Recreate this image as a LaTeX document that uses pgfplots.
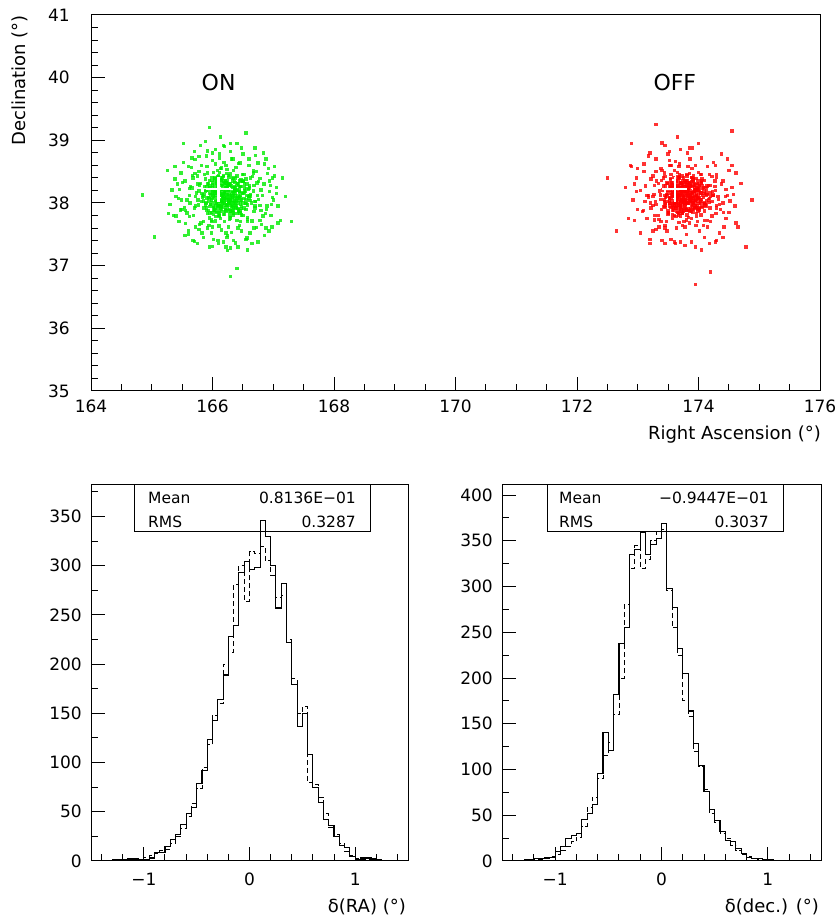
\documentclass[border=0pt]{standalone}
\usepackage{fontspec}
\setmainfont{DejaVu Sans}
\usepackage{pgfplots}
\pgfplotsset{compat=1.18}
\definecolor{ongreen}{RGB}{0,235,0}
\definecolor{offred}{RGB}{255,0,0}

% PAW-like frame: ticks inside, only on bottom and left
\pgfplotsset{
  paw/.style={
    scale only axis, anchor=south west,
    axis line style={line width=1pt},
    tick pos=left, tick align=inside,
    major tick length=14pt, minor tick length=7pt,
    tick style={black, line width=1pt},
    tick label style={font=\fontsize{17}{20}\selectfont},
    /pgf/number format/assume math mode=true,
    scaled ticks=false,
  },
}

\begin{document}
\begin{tikzpicture}
\path[use as bounding box] (0,0) rectangle (839pt,920pt);

% ---------- sky map ----------
\begin{axis}[paw, at={(91pt,529pt)}, width=729pt, height=376pt,
  xmin=164, xmax=176, ymin=35, ymax=41,
  xtick={164,166,168,170,172,174,176}, ytick={35,36,37,38,39,40,41},
  minor x tick num=3, minor y tick num=4,
  xticklabel style={inner sep=0pt, yshift=-9pt},
  yticklabel style={inner sep=0pt, xshift=-21pt},
]
% ON region
\addplot[only marks, color=ongreen, mark=square*, mark size=1.7pt,
  mark options={draw opacity=0, fill=ongreen, fill opacity=0.8}] coordinates {
(166.25,38.14) (165.93,37.88) (166.41,38.31) (166.08,38.02) (166.72,37.61) (166.17,38.22) (165.71,38.47) (166.33,37.95) (166.02,38.11) (166.55,38.06)
(166.12,37.79) (166.38,38.40) (165.88,38.18) (166.27,37.99) (166.95,38.28) (166.19,38.65) (165.99,37.70) (166.46,38.12) (166.06,38.33) (165.54,37.93)
(166.30,38.08) (166.09,37.92) (166.61,38.24) (165.82,38.02) (166.22,37.52) (166.43,37.86) (166.15,38.37) (165.96,38.27) (166.36,38.00) (166.67,38.51)
(166.04,38.16) (166.28,37.74) (165.77,37.97) (166.50,38.35) (166.13,38.05) (166.89,37.90) (166.21,38.19) (165.91,38.58) (166.35,37.83) (166.00,37.62)
(165.62,38.23) (166.18,38.44) (166.40,38.09) (166.07,37.85) (166.58,37.77) (166.24,38.27) (165.85,38.03) (166.31,38.70) (166.11,37.95) (167.05,38.15)
(166.26,38.01) (165.95,38.36) (166.47,37.91) (166.14,38.13) (165.69,37.80) (166.37,38.21) (166.02,38.49) (166.64,38.00) (166.20,37.70) (165.84,38.12)
(166.33,37.89) (166.10,38.26) (165.44,38.07) (166.52,38.17) (166.16,37.98) (166.78,38.39) (165.98,37.73) (166.29,38.04) (166.05,38.85) (166.42,37.60)
(166.23,38.32) (165.89,37.99) (166.60,38.10) (166.12,37.84) (166.35,38.52) (165.79,38.29) (166.19,38.07) (166.48,37.81) (166.01,38.20) (166.70,37.95)
(166.09,38.42) (166.39,37.96) (165.74,38.16) (166.27,38.02) (166.57,38.30) (166.15,37.57) (165.93,38.09) (166.83,37.79) (166.22,38.60) (166.03,37.87)
(166.44,38.19) (165.87,38.45) (166.17,37.93) (166.62,38.04) (166.30,37.76) (165.58,37.84) (166.08,38.24) (166.36,38.34) (166.00,38.01) (166.91,38.47)
(166.21,37.90) (166.46,38.26) (165.97,38.13) (166.13,38.55) (166.68,37.86) (165.81,37.68) (166.34,38.11) (166.06,37.97) (166.55,38.38) (165.33,38.21)
(166.18,38.06) (166.40,37.72) (165.92,38.30) (166.27,38.41) (166.74,38.12) (166.10,37.81) (166.50,38.00) (165.76,38.05) (166.24,37.45) (166.03,38.28)
(166.37,38.16) (165.86,37.92) (166.59,38.22) (166.14,38.36) (166.28,37.83) (166.97,37.98) (166.05,38.12) (166.43,38.63) (165.68,38.40) (166.20,38.00)
(166.31,37.94) (166.01,38.19) (166.65,37.71) (166.16,38.08) (165.90,37.88) (166.49,38.45) (166.25,38.27) (165.63,38.00) (166.11,37.63) (166.80,38.21)
(166.07,38.34) (166.39,38.03) (165.83,38.15) (166.22,37.87) (166.54,37.99) (166.12,38.49) (166.73,38.32) (165.95,37.76) (166.33,38.09) (166.18,38.92)
(165.99,38.07) (166.45,37.84) (166.26,38.21) (165.72,37.95) (166.63,38.14) (166.09,37.96) (166.35,38.39) (166.87,37.83) (166.15,38.03) (165.51,38.33)
(166.29,37.78) (166.04,38.23) (166.52,38.07) (165.88,38.38) (166.20,38.17) (166.41,37.91) (165.79,37.66) (166.67,38.48) (166.13,37.91) (166.36,38.26)
(166.08,38.15) (166.58,37.74) (165.94,38.02) (166.24,38.53) (166.76,38.06) (166.02,37.82) (166.44,38.18) (165.66,38.24) (166.31,37.53) (166.17,38.11)
(166.47,38.37) (165.85,38.10) (166.22,37.97) (166.61,38.27) (166.10,38.44) (166.99,38.09) (166.34,37.88) (165.96,37.94) (166.27,38.31) (165.40,37.79)
(166.14,38.02) (166.39,38.57) (165.91,38.26) (166.70,37.92) (166.23,38.13) (166.05,37.71) (166.53,38.20) (165.75,38.43) (166.32,38.05) (166.12,38.78)
(165.26,38.52) (167.12,37.72) (166.48,38.88) (165.60,37.50) (166.86,38.62) (166.00,37.31) (165.49,38.05) (167.02,38.43) (166.38,37.36) (165.78,38.74)
(166.30,38.95) (165.56,37.67) (166.93,37.55) (165.38,38.38) (166.71,38.76) (166.09,37.40) (167.20,38.10) (165.70,37.39) (166.57,37.44) (165.92,38.83)
(166.19,38.10) (166.42,38.00) (165.98,37.85) (166.28,38.29) (166.06,38.04) (166.35,37.80) (166.16,38.40) (166.51,38.15) (165.89,38.20) (166.24,37.92)
(166.11,38.18) (166.37,38.12) (166.00,38.32) (166.45,37.87) (166.21,38.25) (165.94,38.07) (166.29,37.96) (166.56,38.23) (166.13,37.75) (166.40,38.43)
(166.26,38.06) (166.03,37.89) (166.33,38.35) (165.86,38.14) (166.18,37.82) (166.62,38.11) (166.08,38.28) (166.46,38.02) (166.23,38.47) (165.97,37.98)
(166.36,38.19) (166.14,37.94) (166.55,37.90) (166.01,38.22) (166.27,38.14) (165.80,38.31) (166.42,38.07) (166.10,38.05) (166.67,38.19) (166.19,37.86)
(166.31,38.27) (166.07,38.16) (166.49,38.34) (165.92,37.83) (166.22,38.07) (166.58,37.97) (166.16,38.22) (166.40,37.83) (166.04,38.38) (166.34,38.01)
(166.25,37.98) (165.84,38.09) (166.44,38.25) (166.12,38.31) (166.60,38.08) (166.02,37.93) (166.29,38.46) (165.95,38.24) (166.50,37.80) (166.17,38.15)
(166.39,37.93) (166.09,38.09) (166.71,38.02) (166.21,38.36) (165.88,37.96) (166.33,38.18) (166.06,37.78) (166.53,38.30) (166.27,38.03) (165.99,38.41)
(166.44,38.10) (166.15,38.28) (165.78,38.19) (166.30,37.87) (166.63,38.40) (166.11,38.00) (166.37,38.24) (166.00,38.15) (166.48,37.94) (166.20,38.33)
(165.65,38.57) (166.81,37.66) (165.47,37.89) (166.94,38.35) (166.25,37.24) (165.71,38.69) (166.60,38.70) (165.83,37.52) (167.08,37.95) (166.13,39.05)
(164.85,38.13) (165.28,37.83) (167.30,37.70) (166.40,36.95) (165.95,39.20) (166.55,39.12) (166.30,36.83) (165.05,37.46) (167.15,38.40) (165.52,38.95)
(165.55,38.35) (165.62,37.78) (166.85,38.30) (166.78,37.72) (165.90,38.75) (166.50,38.78) (165.85,37.45) (166.55,37.42) (165.40,38.10) (167.00,38.05)
(165.48,38.48) (165.70,38.82) (166.92,38.55) (166.96,37.80) (165.60,37.55) (166.20,38.90) (166.22,37.30) (165.30,37.98) (167.05,38.25) (165.75,37.35)
(166.70,38.88) (166.65,37.35) (165.45,37.70) (166.88,38.70) (165.95,37.30) (165.52,38.65) (166.98,37.62) (166.40,38.95) (165.80,38.92) (166.30,37.28)
(165.58,38.05) (166.82,38.12) (166.12,38.72) (166.25,37.48) (165.67,38.44) (166.72,38.50) (165.72,37.62) (166.68,37.60) (165.50,37.90) (166.90,37.95)
(166.05,38.62) (166.45,38.64) (165.98,37.52) (166.48,37.55) (165.64,38.26) (166.76,38.34) (165.70,37.92) (166.80,37.88) (166.00,38.80) (166.35,37.40)
(165.42,38.30) (166.99,38.40) (165.82,38.60) (166.60,38.60) (165.78,37.58) (166.62,37.52) (165.36,37.80) (167.08,37.68) (165.88,38.98) (166.58,37.25)
(165.66,38.72) (166.84,38.80) (165.55,37.48) (166.86,37.48) (166.10,37.35) (166.30,38.82) (165.46,38.22) (166.94,38.18) (165.92,38.48) (166.52,38.45)
(165.85,37.70) (166.58,37.70) (165.60,38.58) (166.75,38.64) (165.68,37.40) (166.75,37.38) (166.15,38.56) (166.26,37.62) (165.75,38.30) (166.68,38.28)
(165.92,37.60) (166.44,37.64) (165.56,37.88) (166.88,37.60) (165.78,38.50) (166.66,38.42) (166.02,37.42) (166.42,37.30) (165.38,38.58) (167.02,38.58)
(165.72,38.10) (166.70,38.02) (166.08,38.52) (166.34,38.70) (165.94,37.64) (166.46,37.70) (165.62,38.12) (166.78,37.96) (166.18,37.38) (166.00,38.68)
(166.24,38.09) (166.05,38.21) (166.38,37.97) (166.15,37.90) (166.30,38.30) (165.98,38.05) (166.45,38.17) (166.10,38.38) (166.34,37.84) (166.02,37.95)
(166.27,38.22) (166.12,38.12) (166.48,38.05) (165.95,38.15) (166.20,37.82) (166.40,38.28) (166.07,37.99) (166.31,38.16) (166.18,38.42) (165.90,37.92)
(166.36,38.07) (166.09,38.27) (166.52,37.92) (166.16,38.00) (165.87,38.26) (166.28,37.90) (166.44,38.35) (166.03,38.09) (166.22,38.25) (166.57,38.12)
(166.13,37.86) (166.39,38.20) (165.96,37.84) (166.25,38.35) (166.06,38.18) (166.46,37.98) (166.19,38.03) (166.33,38.40) (165.93,38.31) (166.11,37.96)
(166.42,38.11) (166.00,38.24) (166.29,38.06) (166.17,38.30) (166.53,38.24) (166.08,37.86) (166.35,37.93) (165.99,38.36) (166.23,37.97) (166.47,38.26)
(166.14,38.19) (166.32,38.12) (166.04,37.91) (166.26,38.44) (165.91,38.08) (166.43,37.89) (166.20,38.16) (166.37,38.33) (166.09,38.04) (166.55,38.00)
(166.16,38.27) (166.28,37.99) (166.01,38.13) (166.41,38.21) (166.12,37.80) (166.34,38.25) (165.97,37.98) (166.24,38.05) (166.50,38.34) (166.07,38.31)
(166.30,37.87) (166.19,38.35) (166.45,38.08) (165.94,38.20) (166.36,38.02) (166.10,38.10) (166.27,38.29) (166.05,38.02) (166.39,37.91) (166.21,38.21)
(166.13,38.40) (166.49,38.15) (166.02,37.88) (166.31,38.01) (166.17,38.14) (166.43,38.30) (165.89,38.01) (166.25,37.88) (166.08,38.23) (166.35,38.16)
(166.22,38.32) (166.40,38.04) (166.00,38.29) (166.29,38.11) (166.15,37.94) (166.54,38.18) (166.11,38.15) (166.33,37.96) (166.04,38.40) (166.26,38.18)
};
% OFF region
\addplot[only marks, color=offred, mark=square*, mark size=1.7pt,
  mark options={draw opacity=0, fill=offred, fill opacity=0.8}] coordinates {
(173.78,38.05) (173.46,38.27) (174.01,37.92) (173.65,38.16) (173.92,38.44) (173.30,37.98) (173.84,37.77) (173.59,38.33) (174.25,38.12) (173.71,37.86)
(173.52,38.09) (173.96,38.21) (173.68,37.69) (174.12,37.95) (173.40,38.52) (173.81,38.01) (173.62,37.91) (174.38,38.30) (173.75,38.40) (173.27,38.14)
(173.88,38.17) (173.57,37.82) (174.06,38.38) (173.73,38.03) (173.35,37.74) (173.99,37.87) (173.66,38.24) (174.18,38.07) (173.49,38.02) (173.83,38.58)
(173.70,37.96) (174.29,37.83) (173.61,38.13) (173.93,38.31) (173.43,37.94) (173.79,38.19) (174.08,37.64) (173.55,38.45) (173.86,38.08) (173.13,38.27)
(173.74,38.29) (173.48,38.11) (174.03,38.00) (173.63,37.78) (173.90,38.15) (174.45,38.22) (173.69,38.62) (173.38,38.06) (173.97,37.93) (173.58,37.99)
(173.82,38.36) (173.54,38.20) (174.14,38.27) (173.76,37.89) (173.31,38.35) (173.95,38.04) (173.64,37.60) (174.22,37.79) (173.87,38.12) (173.51,37.84)
(173.72,38.08) (174.00,38.49) (173.45,37.97) (173.80,37.73) (174.33,38.06) (173.60,38.28) (173.91,37.85) (173.22,37.92) (173.77,38.18) (174.10,38.36)
(173.67,37.93) (173.94,38.10) (173.42,38.40) (174.04,37.81) (173.73,38.25) (173.56,38.03) (174.19,38.16) (173.85,37.68) (173.36,38.19) (173.89,38.55)
(173.62,38.11) (174.09,37.99) (173.79,38.34) (173.50,37.87) (173.98,38.23) (174.52,38.03) (173.70,37.79) (173.44,38.48) (173.84,38.00) (174.15,37.72)
(173.75,38.20) (173.29,38.02) (173.92,37.90) (173.66,38.42) (174.24,38.13) (173.57,37.76) (173.86,38.30) (173.99,38.07) (173.09,37.88) (173.78,37.95)
(173.61,38.26) (174.05,38.32) (173.74,37.84) (173.47,38.14) (173.90,38.04) (174.36,37.90) (173.68,38.09) (173.53,38.60) (174.13,38.19) (173.81,37.81)
(173.39,37.90) (173.96,38.39) (173.71,38.01) (174.27,38.26) (173.58,38.17) (173.88,37.75) (173.64,37.97) (174.02,38.09) (173.25,38.43) (173.83,38.24)
(173.76,37.70) (174.17,38.01) (173.49,38.31) (173.93,38.18) (173.69,38.06) (174.41,37.85) (173.55,37.93) (173.85,38.47) (173.33,37.80) (174.07,38.23)
(173.73,38.12) (173.46,37.99) (173.97,37.78) (173.63,38.35) (174.20,38.10) (173.80,38.29) (173.52,38.07) (174.11,37.97) (173.87,38.03) (173.18,38.09)
(173.69,38.45) (174.00,38.14) (173.41,38.21) (173.84,37.88) (174.30,38.41) (173.60,38.00) (173.94,38.22) (173.74,37.64) (174.58,38.14) (173.56,38.32)
(173.79,38.06) (173.37,38.13) (174.06,38.28) (173.65,37.85) (173.91,38.37) (173.50,37.82) (174.16,38.05) (173.82,38.15) (173.28,37.73) (174.01,37.91)
(173.71,38.33) (173.95,37.96) (173.44,38.05) (174.23,38.18) (173.67,38.21) (173.86,38.02) (173.54,38.39) (174.10,37.87) (173.77,37.92) (173.34,38.31)
(173.89,38.11) (173.59,37.94) (174.03,38.45) (173.72,38.18) (173.47,37.70) (173.98,38.08) (174.35,37.98) (173.63,38.11) (173.84,38.29) (173.21,38.00)
(173.75,37.87) (174.12,38.25) (173.53,38.26) (173.92,38.01) (173.68,37.83) (174.27,38.35) (173.45,38.12) (173.81,38.43) (174.05,38.06) (173.60,37.80)
(173.86,38.20) (173.39,38.36) (173.97,37.83) (173.70,38.04) (174.19,37.92) (173.57,38.14) (173.93,38.26) (173.65,38.49) (174.44,38.10) (173.78,37.99)
(173.74,38.14) (173.90,37.98) (173.63,38.05) (173.82,38.22) (173.69,37.96) (173.97,38.13) (173.58,38.19) (173.85,38.08) (173.76,38.30) (174.04,38.02)
(173.66,38.12) (173.93,38.17) (173.71,37.90) (173.88,38.34) (173.55,38.08) (174.00,38.25) (173.78,38.01) (173.61,38.27) (173.95,37.95) (173.80,38.16)
(173.73,38.05) (174.07,38.12) (173.64,38.23) (173.87,37.91) (173.52,38.00) (173.91,38.29) (173.70,38.18) (174.13,38.04) (173.83,38.11) (173.59,37.88)
(173.79,38.26) (173.96,38.06) (173.67,37.99) (173.84,38.19) (174.02,37.89) (173.62,38.15) (173.89,38.41) (173.72,37.93) (173.99,38.20) (173.56,38.24)
(173.81,38.03) (173.68,38.31) (174.09,38.15) (173.75,38.09) (173.60,37.97) (173.94,38.00) (173.77,38.36) (173.86,37.86) (174.16,38.28) (173.65,38.07)
(173.84,38.13) (173.71,38.24) (173.98,37.96) (173.54,38.16) (173.90,38.09) (173.76,38.03) (174.05,38.33) (173.63,37.92) (173.87,38.27) (173.73,38.19)
(173.92,38.18) (173.58,38.10) (173.80,37.89) (174.01,38.21) (173.69,38.40) (173.96,38.11) (173.66,38.02) (173.83,38.33) (174.11,37.99) (173.78,38.12)
(173.61,38.20) (173.88,38.07) (173.74,37.98) (174.03,38.16) (173.57,38.29) (173.93,37.93) (173.70,38.14) (173.85,38.25) (173.99,38.03) (173.64,37.94)
(173.76,38.22) (174.08,38.09) (173.67,38.11) (173.91,38.38) (173.53,37.95) (173.82,38.00) (173.97,38.24) (173.72,38.06) (174.14,38.14) (173.59,38.17)
(173.87,38.05) (173.70,38.32) (173.95,38.19) (173.62,38.01) (174.06,37.94) (173.79,38.15) (173.66,38.26) (173.89,37.90) (173.75,38.10) (174.00,38.30)
(173.00,38.55) (174.62,37.68) (172.95,37.72) (174.48,38.70) (173.20,38.80) (174.70,38.31) (173.45,37.35) (174.30,37.40) (172.80,38.25) (173.90,38.88)
(172.50,38.40) (174.88,38.05) (173.30,39.25) (173.95,36.70) (172.65,37.55) (174.55,39.15) (173.65,39.05) (174.20,36.90) (172.90,38.95) (174.78,37.30)
(173.05,38.20) (174.40,38.00) (173.15,37.75) (174.30,38.45) (173.50,38.78) (174.05,38.72) (173.40,37.40) (174.10,37.45) (172.92,38.05) (174.55,38.25)
(173.10,38.50) (174.45,37.75) (173.25,37.55) (174.25,38.65) (173.70,38.85) (173.78,37.32) (173.00,37.90) (174.60,37.95) (173.30,38.70) (174.18,37.35)
(173.60,37.38) (173.85,38.88) (172.98,38.40) (174.50,38.52) (173.20,37.35) (174.35,37.52) (173.45,38.92) (174.00,38.95) (173.35,37.62) (174.40,38.35)
(173.12,38.02) (174.32,38.10) (173.62,38.66) (173.80,37.50) (173.22,38.38) (174.22,38.42) (173.28,37.80) (174.20,37.70) (172.95,38.30) (174.50,37.85)
(173.55,38.60) (173.95,38.60) (173.48,37.55) (174.02,37.55) (173.18,38.12) (174.28,38.20) (173.25,37.96) (174.30,37.92) (173.52,38.82) (173.88,37.38)
(172.90,38.58) (174.62,38.48) (173.38,38.55) (174.15,38.58) (173.30,37.58) (174.15,37.62) (172.85,37.75) (174.65,37.62) (173.40,38.96) (174.05,37.25)
(173.18,38.75) (174.38,38.78) (173.05,37.52) (174.40,37.45) (173.62,37.35) (173.82,38.80) (172.98,38.18) (174.48,38.12) (173.45,38.42) (174.05,38.45)
(173.38,37.70) (174.10,37.72) (173.10,38.62) (174.28,38.60) (173.20,37.42) (174.28,37.38) (173.68,38.58) (173.78,37.62) (173.28,38.28) (174.20,38.28)
(173.45,37.60) (173.96,37.64) (173.08,37.86) (174.42,37.62) (173.30,38.50) (174.18,38.45) (173.55,37.42) (173.95,37.30) (172.88,38.60) (174.55,38.60)
(173.25,38.10) (174.22,38.02) (173.60,38.52) (173.86,38.70) (173.45,37.64) (173.98,37.70) (173.15,38.12) (174.30,37.96) (173.70,37.38) (173.52,38.68)
(173.78,38.10) (173.60,38.22) (173.92,38.00) (173.70,37.92) (173.85,38.32) (173.52,38.04) (174.00,38.18) (173.66,38.37) (173.88,37.86) (173.57,37.97)
(173.82,38.24) (173.68,38.13) (174.03,38.06) (173.49,38.16) (173.74,37.83) (173.95,38.29) (173.63,38.00) (173.86,38.17) (173.73,38.43) (173.45,37.93)
(173.91,38.08) (173.65,38.28) (174.07,37.93) (173.71,38.01) (173.42,38.27) (173.83,37.91) (173.99,38.36) (173.58,38.10) (173.77,38.26) (174.12,38.13)
(173.69,37.87) (173.94,38.21) (173.51,37.85) (173.80,38.36) (173.62,38.19) (174.01,37.99) (173.75,38.04) (173.88,38.41) (173.48,38.32) (173.67,37.97)
(173.97,38.12) (173.55,38.25) (173.84,38.07) (173.72,38.31) (174.08,38.25) (173.64,37.87) (173.90,37.94) (173.54,38.37) (173.78,37.98) (174.02,38.27)
(173.70,38.20) (173.87,38.13) (173.59,37.92) (173.81,38.45) (173.46,38.09) (173.98,37.90) (173.75,38.17) (173.92,38.34) (173.64,38.05) (174.10,38.01)
(173.71,38.28) (173.83,38.00) (173.56,38.14) (173.96,38.22) (173.67,37.81) (173.89,38.26) (173.52,37.99) (173.79,38.06) (174.05,38.35) (173.62,38.32)
(173.85,37.88) (173.74,38.36) (174.00,38.09) (173.49,38.21) (173.91,38.03) (173.65,38.11) (173.82,38.30) (173.60,38.03) (173.94,37.92) (173.76,38.22)
(173.68,38.41) (174.04,38.16) (173.57,37.89) (173.86,38.02) (173.72,38.15) (173.98,38.31) (173.44,38.02) (173.80,37.89) (173.63,38.24) (173.90,38.17)
(173.77,38.33) (173.95,38.05) (173.55,38.30) (173.84,38.12) (173.70,37.95) (174.09,38.19) (173.66,38.16) (173.88,37.97) (173.59,38.41) (173.81,38.19)
};
% source positions
\addplot[only marks, mark=+, mark size=12.5pt, white, line width=2.2pt]
  coordinates {(166.10,38.22) (173.61,38.22)};
\node[font=\fontsize{22}{24}\selectfont] at (axis cs:166.10,39.93) {ON};
\node[font=\fontsize{22}{24}\selectfont] at (axis cs:173.61,39.93) {OFF};
\end{axis}

% ---------- delta RA ----------
\begin{axis}[paw, at={(91pt,59pt)}, width=317pt, height=376pt,
  xmin=-1.5, xmax=1.5, ymin=0, ymax=382,
  xtick={-1,0,1}, xticklabels={−1,0,1},
  minor xtick={-1.4,-1.2,-0.8,-0.6,-0.4,-0.2,0.2,0.4,0.6,0.8,1.2,1.4},
  ytick={0,50,100,150,200,250,300,350},
  minor ytick={25,75,125,175,225,275,325,375},
  xticklabel style={inner sep=0pt, yshift=-12pt},
  yticklabel style={inner sep=0pt, xshift=-9pt},
]
\addplot[const plot, black, line width=0.9pt, dash pattern=on 5pt off 3pt] coordinates {
(-1.50,0) (-1.45,0) (-1.40,0) (-1.35,0) (-1.30,0) (-1.25,0) (-1.20,2) (-1.15,1) (-1.10,1) (-1.05,2)
(-1.00,4) (-0.95,6) (-0.90,8) (-0.85,11) (-0.80,12) (-0.75,18) (-0.70,25) (-0.65,33) (-0.60,45) (-0.55,58)
(-0.50,74) (-0.45,95) (-0.40,118) (-0.35,148) (-0.30,160) (-0.25,200) (-0.20,212) (-0.15,281) (-0.10,300) (-0.05,264)
(0.00,314) (0.05,312) (0.10,320) (0.15,305) (0.20,290) (0.25,268) (0.30,270) (0.35,225) (0.40,185) (0.45,150)
(0.50,157) (0.55,80) (0.60,78) (0.65,65) (0.70,48) (0.75,34) (0.80,27) (0.85,18) (0.90,10) (0.95,6)
(1.00,3) (1.05,2) (1.10,2) (1.15,1) (1.20,1) (1.25,0) (1.30,0) (1.35,0) (1.40,0) (1.45,0) (1.50,0)
};
\addplot[const plot, black, line width=1.1pt] coordinates {
(-1.50,0) (-1.45,0) (-1.40,0) (-1.35,0) (-1.30,1) (-1.25,1) (-1.20,1) (-1.15,2) (-1.10,2) (-1.05,1)
(-1.00,1) (-0.95,3) (-0.90,9) (-0.85,9) (-0.80,15) (-0.75,22) (-0.70,27) (-0.65,37) (-0.60,48) (-0.55,54)
(-0.50,79) (-0.45,92) (-0.40,123) (-0.35,143) (-0.30,164) (-0.25,189) (-0.20,228) (-0.15,239) (-0.10,293) (-0.05,304)
(0.00,296) (0.05,298) (0.10,346) (0.15,330) (0.20,300) (0.25,257) (0.30,282) (0.35,222) (0.40,179) (0.45,137)
(0.50,150) (0.55,108) (0.60,75) (0.65,59) (0.70,42) (0.75,36) (0.80,25) (0.85,16) (0.90,14) (0.95,5)
(1.00,1) (1.05,3) (1.10,3) (1.15,2) (1.20,1) (1.25,0) (1.30,0) (1.35,0) (1.40,0) (1.45,0) (1.50,0)
};
\end{axis}

% ---------- delta dec ----------
\begin{axis}[paw, at={(502pt,59pt)}, width=319pt, height=376pt,
  xmin=-1.5, xmax=1.5, ymin=0, ymax=411,
  xtick={-1,0,1}, xticklabels={−1,0,1},
  minor xtick={-1.4,-1.2,-0.8,-0.6,-0.4,-0.2,0.2,0.4,0.6,0.8,1.2,1.4},
  ytick={0,50,100,150,200,250,300,350,400},
  minor ytick={25,75,125,175,225,275,325,375},
  xticklabel style={inner sep=0pt, yshift=-12pt},
  yticklabel style={inner sep=0pt, xshift=-9pt},
]
\addplot[const plot, black, line width=0.9pt, dash pattern=on 5pt off 3pt] coordinates {
(-1.50,0) (-1.45,0) (-1.40,0) (-1.35,1) (-1.30,2) (-1.25,1) (-1.20,2) (-1.15,2) (-1.10,4) (-1.05,5)
(-1.00,7) (-0.95,12) (-0.90,16) (-0.85,21) (-0.80,26) (-0.75,38) (-0.70,58) (-0.65,70) (-0.60,90) (-0.55,115)
(-0.50,130) (-0.45,160) (-0.40,200) (-0.35,280) (-0.30,320) (-0.25,345) (-0.20,320) (-0.15,330) (-0.10,350) (-0.05,360)
(0.00,362) (0.05,296) (0.10,255) (0.15,225) (0.20,175) (0.25,158) (0.30,120) (0.35,103) (0.40,78) (0.45,52)
(0.50,42) (0.55,30) (0.60,25) (0.65,17) (0.70,12) (0.75,7) (0.80,5) (0.85,3) (0.90,2) (0.95,2)
(1.00,1) (1.05,1) (1.10,0) (1.15,0) (1.20,0) (1.25,0) (1.30,0) (1.35,0) (1.40,0) (1.45,0) (1.50,0)
};
\addplot[const plot, black, line width=1.1pt] coordinates {
(-1.50,0) (-1.45,0) (-1.40,1) (-1.35,1) (-1.30,1) (-1.25,2) (-1.20,3) (-1.15,3) (-1.10,3) (-1.05,4)
(-1.00,10) (-0.95,16) (-0.90,25) (-0.85,28) (-0.80,30) (-0.75,45) (-0.70,52) (-0.65,62) (-0.60,96) (-0.55,140)
(-0.50,121) (-0.45,182) (-0.40,238) (-0.35,255) (-0.30,335) (-0.25,340) (-0.20,359) (-0.15,335) (-0.10,346) (-0.05,353)
(0.00,369) (0.05,298) (0.10,277) (0.15,232) (0.20,205) (0.25,164) (0.30,128) (0.35,104) (0.40,76) (0.45,56)
(0.50,44) (0.55,32) (0.60,22) (0.65,21) (0.70,14) (0.75,8) (0.80,4) (0.85,3) (0.90,3) (0.95,1)
(1.00,2) (1.05,1) (1.10,1) (1.15,0) (1.20,0) (1.25,0) (1.30,0) (1.35,0) (1.40,0) (1.45,0) (1.50,0)
};
\end{axis}

% ---------- titles ----------
\node[rotate=90, anchor=base east, inner sep=0pt, font=\fontsize{18}{20}\selectfont]
  at (25pt,905pt) {Declination (°)};
\node[anchor=base east, inner sep=0pt, font=\fontsize{18}{20}\selectfont]
  at (821pt,480pt) {Right Ascension (°)};
\node[anchor=base east, inner sep=0pt, font=\fontsize{18}{20}\selectfont]
  at (406pt,8pt) {δ(RA) (°)};
\node[anchor=base east, inner sep=0pt, font=\fontsize{18}{20}\selectfont]
  at (819pt,8pt) {δ(dec.) (°)};

% ---------- statistics boxes ----------
\begin{scope}[every node/.style={inner sep=0pt, font=\fontsize{15.5}{18}\selectfont}]
\draw[line width=1pt] (134pt,388pt) rectangle (370pt,435pt);
\node[anchor=west] at (148pt,422pt) {Mean};
\node[anchor=east] at (356pt,422pt) {0.8136E−01};
\node[anchor=west] at (148pt,398pt) {RMS};
\node[anchor=east] at (356pt,398pt) {0.3287};
\draw[line width=1pt] (547pt,388pt) rectangle (783pt,435pt);
\node[anchor=west] at (559pt,422pt) {Mean};
\node[anchor=east] at (769pt,422pt) {−0.9447E−01};
\node[anchor=west] at (559pt,398pt) {RMS};
\node[anchor=east] at (769pt,398pt) {0.3037};
\end{scope}
\end{tikzpicture}
\end{document}
